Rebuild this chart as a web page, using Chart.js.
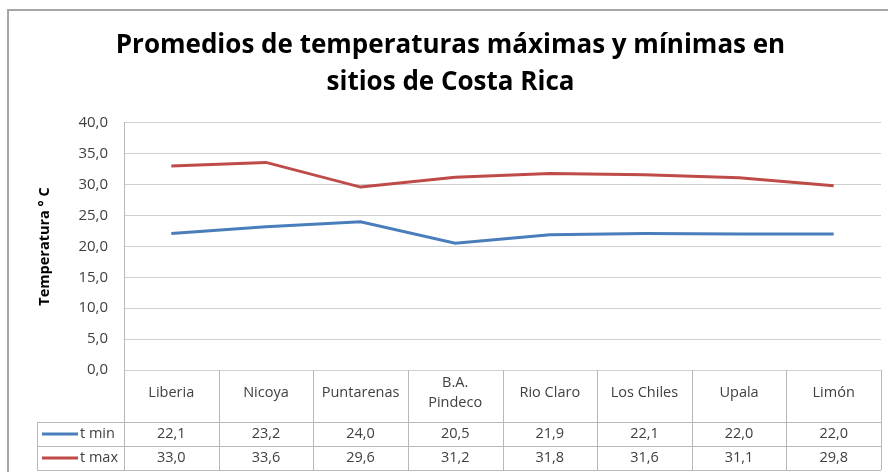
<!DOCTYPE html>
<html>
<head>
<meta charset="utf-8">
<script src="https://cdn.jsdelivr.net/npm/chart.js@4/dist/chart.umd.min.js"></script>
<style>
  html, body { margin: 0; padding: 0; background: #fff; }
  #wrap { width: 888px; height: 472px; }
</style>
</head>
<body>
<div id="wrap"><canvas id="chart" width="888" height="472"></canvas></div>
<script>
// datos
const categories = ['Liberia', 'Nicoya', 'Puntarenas', ['B.A.', 'Pindeco'], 'Rio Claro', 'Los Chiles', 'Upala', 'Limón'];
const seriesNames = ['t min', 't max'];
const tMin = [22.1, 23.2, 24.0, 20.5, 21.9, 22.1, 22.0, 22.0];
const tMax = [33.0, 33.6, 29.6, 31.2, 31.8, 31.6, 31.1, 29.8];
const yMin = 0;
const yMax = 40;
const yStep = 5;

const blue = '#4A7EBB';
const red = '#BE4B48';
const textColor = '#404040';
const lineGray = '#B8B8B8';
const fontFamily = '"Open Sans", "Noto Sans", sans-serif';

const fmt = v => v.toFixed(1).replace('.', ',');

// fondo y borde exterior
const frame = {
    id: 'frame',
    beforeDraw(chart) {
        const ctx = chart.ctx;
        ctx.save();
        ctx.fillStyle = '#fff';
        ctx.fillRect(0, 0, chart.width, chart.height);
        ctx.strokeStyle = '#A6A6A6';
        ctx.lineWidth = 2;
        ctx.beginPath();
        ctx.moveTo(8, chart.height);
        ctx.lineTo(8, 10);
        ctx.lineTo(chart.width, 10);
        ctx.stroke();
        ctx.restore();
    }
};

// tabla de datos debajo del grafico
const dataTable = {
    id: 'dataTable',
    afterDraw(chart) {
        const { ctx, chartArea } = chart;
        const x = chart.scales.x;
        const colW = (chartArea.right - chartArea.left) / categories.length;
        const top = chartArea.bottom;
        const row1 = top + 52;
        const row2 = row1 + 24;
        const row3 = row2 + 24;
        const legendLeft = 37;

        ctx.save();
        ctx.strokeStyle = lineGray;
        ctx.lineWidth = 1;
        ctx.beginPath();
        [row1, row2, row3].forEach(y => {
            ctx.moveTo(legendLeft, y + 0.5);
            ctx.lineTo(chartArea.right, y + 0.5);
        });
        for (let i = 0; i <= categories.length; i++) {
            const px = Math.round(chartArea.left + i * colW) + 0.5;
            ctx.moveTo(px, top);
            ctx.lineTo(px, row3);
        }
        ctx.moveTo(legendLeft + 0.5, row1);
        ctx.lineTo(legendLeft + 0.5, row3);
        ctx.stroke();

        ctx.fillStyle = textColor;
        ctx.font = '14.5px ' + fontFamily;
        ctx.textAlign = 'center';
        ctx.textBaseline = 'middle';
        categories.forEach((c, i) => {
            const cx = x.getPixelForValue(i);
            if (Array.isArray(c)) {
                ctx.fillText(c[0], cx, top + 13);
                ctx.fillText(c[1], cx, top + 33);
            } else {
                ctx.fillText(c, cx, top + 23);
            }
        });

        const rows = [[tMin, blue, row1], [tMax, red, row2]];
        rows.forEach(([vals, color, y0], r) => {
            const cy = y0 + 12;
            vals.forEach((v, i) => {
                ctx.fillText(fmt(v), x.getPixelForValue(i), cy);
            });
            ctx.strokeStyle = color;
            ctx.lineWidth = 3;
            ctx.beginPath();
            ctx.moveTo(42, cy);
            ctx.lineTo(78, cy);
            ctx.stroke();
            ctx.textAlign = 'left';
            ctx.fillText(seriesNames[r], 80, cy);
            ctx.textAlign = 'center';
        });
        ctx.restore();
    }
};

new Chart(document.getElementById('chart'), {
    type: 'line',
    data: {
        labels: categories,
        datasets: [
            { label: seriesNames[0], data: tMin, borderColor: blue, backgroundColor: blue },
            { label: seriesNames[1], data: tMax, borderColor: red, backgroundColor: red }
        ]
    },
    options: {
        responsive: false,
        animation: false,
        devicePixelRatio: 1,
        layout: { padding: { left: 20, right: 7, top: 0, bottom: 102 } },
        elements: {
            line: { borderWidth: 3, tension: 0 },
            point: { radius: 0 }
        },
        plugins: {
            legend: { display: false },
            tooltip: { enabled: false },
            title: {
                display: true,
                text: ['Promedios de temperaturas máximas y mínimas en', 'sitios de Costa Rica'],
                color: '#000',
                font: { family: fontFamily, size: 26, weight: 'bold', lineHeight: 1.42 },
                padding: { top: 27, bottom: 22 }
            }
        },
        scales: {
            x: {
                type: 'category',
                offset: true,
                display: false
            },
            y: {
                min: yMin,
                max: yMax,
                afterFit(scale) { scale.width = 104; },
                ticks: {
                    stepSize: yStep,
                    color: textColor,
                    font: { family: fontFamily, size: 15 },
                    padding: 16,
                    callback: v => fmt(v)
                },
                grid: { color: '#CFCFCF', lineWidth: 1, drawTicks: false },
                border: { color: lineGray, width: 1 },
                title: {
                    display: true,
                    text: 'Temperatura ° C',
                    color: '#000',
                    font: { family: fontFamily, size: 14.5, weight: 'bold' },
                    padding: { top: 16, bottom: 0 }
                }
            }
        }
    },
    plugins: [frame, dataTable]
});
</script>
</body>
</html>
